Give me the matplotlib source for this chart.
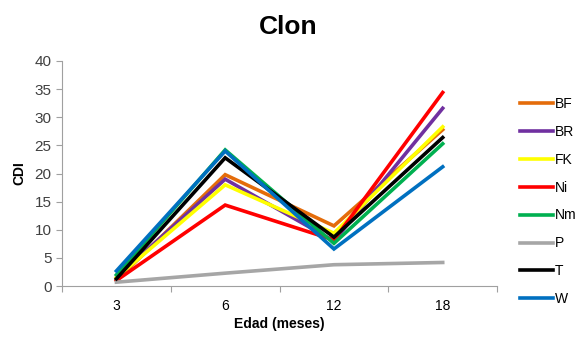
import matplotlib
matplotlib.use("Agg")
from matplotlib import pyplot

# data
edades = ["3", "6", "12", "18"]
bf = [1.0, 19.8, 10.7, 27.8]
br = [1.5, 19.0, 8.0, 31.6]
fk = [1.5, 18.0, 9.4, 28.3]
ni = [1.0, 14.4, 8.2, 34.4]
nm = [2.0, 24.2, 7.6, 25.3]
p = [0.7, 2.3, 3.8, 4.2]
t = [1.3, 22.8, 8.7, 26.4]
w = [2.7, 24.0, 6.6, 21.2]

series = [("BF", bf, "#E46C0A"), ("BR", br, "#7030A0"), ("FK", fk, "#FFFF00"),
          ("Ni", ni, "#FF0000"), ("Nm", nm, "#00B050"), ("P", p, "#A6A6A6"),
          ("T", t, "#000000"), ("W", w, "#0070C0")]

pyplot.rcParams["font.family"] = ["Liberation Sans", "DejaVu Sans"]

fig = pyplot.figure(figsize=(5.77, 3.37), dpi=100)
ax = fig.add_axes([0.1075, 0.151, 0.754, 0.668])

xs = list(range(len(edades)))
for label, vals, colour in series:
    ax.plot(xs, vals, color=colour, linewidth=2.6, label=label,
            solid_joinstyle="miter")

ax.set_xlim(-0.5, len(edades) - 0.5)
ax.set_ylim(0, 40)
ax.set_yticks(range(0, 41, 5))
ax.set_xticks([i - 0.5 for i in range(len(edades) + 1)])
ax.set_xticklabels([])
ax.set_xticks(xs, minor=True)
ax.set_xticklabels(edades, minor=True)
ax.tick_params(axis="x", which="major", length=4, color="#A0A0A0")
ax.tick_params(axis="x", which="minor", length=0, pad=9)
ax.tick_params(axis="y", length=4, color="#A0A0A0")
ax.tick_params(labelsize=11, labelcolor="#404040")
for side in ["top", "right"]:
    ax.spines[side].set_visible(False)
for side in ["left", "bottom"]:
    ax.spines[side].set_color("#A0A0A0")

ax.set_xlabel("Edad (meses)", fontsize=10, fontweight="bold")
ax.xaxis.set_label_coords(0.5, -0.135)
ax.set_ylabel("CDI", fontsize=10, fontweight="bold", labelpad=6)
fig.suptitle("Clon", fontsize=19, fontweight="bold", y=0.955)

ax.legend(loc="upper left", bbox_to_anchor=(1.04, 0.865), frameon=False,
          fontsize=10, handlelength=2.4, handletextpad=0.1,
          labelspacing=1.0, borderaxespad=0.)

fig.savefig("out.png", dpi=100)
